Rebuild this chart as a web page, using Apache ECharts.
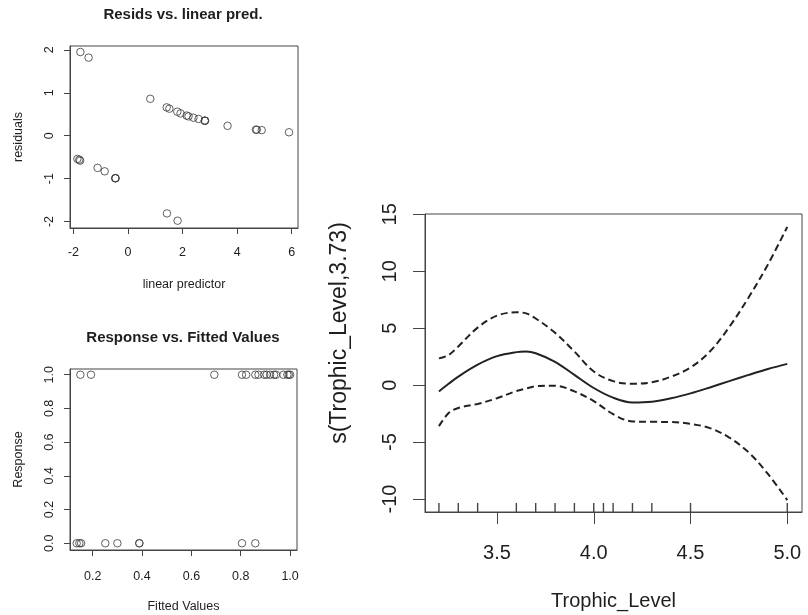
<!DOCTYPE html>
<html>
<head>
<meta charset="utf-8">
<title>GAM diagnostics: Trophic_Level</title>
<script src="https://cdn.jsdelivr.net/npm/echarts@6/dist/echarts.min.js"></script>
<style>
  html, body { margin: 0; padding: 0; background: #ffffff; }
  #chart { width: 808px; height: 615px; }
</style>
</head>
<body>
<div id="chart"></div>
<script>
// Residuals against the linear predictor
const linPred = [-1.74, -1.44, -1.85, -1.78, -1.75, -1.11, -0.85, -0.46, -0.46, -0.45,
  0.82, 1.42, 1.52, 1.81, 1.93, 2.15, 2.22, 2.40, 2.59, 2.82, 2.82, 2.82,
  3.65, 4.69, 4.72, 4.90, 5.90, 1.43, 1.82];
const resid = [1.95, 1.82, -0.54, -0.56, -0.58, -0.75, -0.83, -0.99, -0.99, -0.99,
  0.86, 0.66, 0.63, 0.56, 0.52, 0.47, 0.45, 0.42, 0.39, 0.35, 0.35, 0.35,
  0.23, 0.14, 0.14, 0.13, 0.08, -1.81, -1.98];

// Observed response against fitted probability
const fitted = [0.150, 0.193, 0.693, 0.805, 0.822, 0.859, 0.872, 0.895, 0.905, 0.919,
  0.935, 0.943, 0.973, 0.989, 0.995, 1.000,
  0.135, 0.146, 0.153, 0.251, 0.300, 0.389, 0.389, 0.805, 0.859];
const response = [1, 1, 1, 1, 1, 1, 1, 1, 1, 1,
  1, 1, 1, 1, 1, 1,
  0, 0, 0, 0, 0, 0, 0, 0, 0];

// Smooth term s(Trophic_Level) with its +/- 2 SE band
const trophicGrid = [3.2, 3.25, 3.3, 3.4, 3.5, 3.6, 3.65, 3.7, 3.8, 3.9, 4.0,
  4.1, 4.2, 4.3, 4.4, 4.5, 4.6, 4.7, 4.8, 4.9, 5.0];
const smoothFit = [-0.55, 0.12, 0.75, 1.8, 2.55, 2.9, 2.95, 2.8, 2.05, 0.9, -0.25,
  -1.1, -1.52, -1.45, -1.15, -0.72, -0.2, 0.35, 0.9, 1.42, 1.87];
const upperBand = [2.35, 2.65, 3.4, 5.05, 6.1, 6.4, 6.3, 5.85, 4.6, 2.95, 1.2,
  0.35, 0.12, 0.25, 0.75, 1.55, 2.95, 5.1, 7.7, 10.6, 13.9];
const lowerBand = [-3.6, -2.45, -2.0, -1.65, -1.15, -0.52, -0.3, -0.1, -0.05, -0.55, -1.4,
  -2.55, -3.19, -3.22, -3.24, -3.4, -3.77, -4.6, -5.9, -7.8, -10.1];
const rugValues = [3.2, 3.3, 3.4, 3.6, 3.7, 3.8, 3.9, 4.0, 4.05, 4.1, 4.2, 4.3, 4.5, 5.0];

// Tick labels
const residXTicks = [-2, 0, 2, 4, 6];
const residYTicks = [-2, -1, 0, 1, 2];
const respXTicks = [0.2, 0.4, 0.6, 0.8, 1.0];
const respYTicks = [0, 0.2, 0.4, 0.6, 0.8, 1.0];
const smoothXTicks = [3.5, 4.0, 4.5, 5.0];
const smoothYTicks = [-10, -5, 0, 5, 10, 15];

const FONT = "'Liberation Sans', Arial, Helvetica, sans-serif";
const INK = '#1e1e1e';
const FRAME = '#444444';

function zip(a, b) { return a.map((v, i) => [v, b[i]]); }

function valueAxis(o) {
  return {
    type: 'value',
    gridIndex: o.grid,
    min: o.min,
    max: o.max,
    splitLine: { show: false },
    axisLine: { show: true, onZero: false, lineStyle: { color: FRAME, width: 1 } },
    axisTick: { show: true, customValues: o.ticks, length: o.tickLen, lineStyle: { color: FRAME, width: 1 } },
    axisLabel: {
      customValues: o.ticks,
      margin: o.margin,
      rotate: o.rotate || 0,
      fontFamily: FONT,
      fontSize: o.fontSize,
      color: INK,
      formatter: o.fmt || (v => String(v))
    },
    name: o.name || '',
    nameLocation: 'middle',
    nameGap: o.nameGap || 0,
    nameTextStyle: { fontFamily: FONT, fontSize: o.nameSize, color: INK }
  };
}

const chart = echarts.init(document.getElementById('chart'), null, { renderer: 'canvas' });

const fix1 = v => v.toFixed(1);

const option = {
  animation: false,
  backgroundColor: '#ffffff',
  graphic: [
    { type: 'text', x: 183, y: 15, style: { text: 'Resids vs. linear pred.', font: "bold 15px " + FONT, fill: INK, align: 'center', verticalAlign: 'middle' } },
    { type: 'text', x: 183, y: 338, style: { text: 'Response vs. Fitted Values', font: "bold 15px " + FONT, fill: INK, align: 'center', verticalAlign: 'middle' } },
    { type: 'text', x: 340, y: 333, rotation: Math.PI / 2, style: { text: 's(Trophic_Level,3.73)', font: "23px " + FONT, fill: INK, align: 'center', verticalAlign: 'middle' } }
  ],
  grid: [
    { left: 70, top: 46, width: 228, height: 182, show: true, borderColor: FRAME, borderWidth: 1, backgroundColor: 'transparent' },
    { left: 70, top: 369, width: 227, height: 181, show: true, borderColor: FRAME, borderWidth: 1, backgroundColor: 'transparent' },
    { left: 425, top: 214, width: 377, height: 298, show: true, borderColor: FRAME, borderWidth: 1, backgroundColor: 'transparent' }
  ],
  xAxis: [
    valueAxis({ grid: 0, min: -2.12, max: 6.23, ticks: residXTicks, tickLen: 6, margin: 18, fontSize: 12.5, name: 'linear predictor', nameGap: 50, nameSize: 12.5 }),
    valueAxis({ grid: 1, min: 0.108, max: 1.028, ticks: respXTicks, tickLen: 6, margin: 20, fontSize: 12.5, fmt: fix1, name: 'Fitted Values', nameGap: 50, nameSize: 12.5 }),
    valueAxis({ grid: 2, min: 3.128, max: 5.076, ticks: smoothXTicks, tickLen: 12, margin: 31, fontSize: 20, fmt: fix1, name: 'Trophic_Level', nameGap: 79, nameSize: 20 })
  ],
  yAxis: [
    valueAxis({ grid: 0, min: -2.15, max: 2.09, ticks: residYTicks, tickLen: 6, margin: 14, rotate: 90, fontSize: 12.5, name: 'residuals', nameGap: 45, nameSize: 12.5 }),
    valueAxis({ grid: 1, min: -0.04, max: 1.034, ticks: respYTicks, tickLen: 6, margin: 14, rotate: 90, fontSize: 12.5, fmt: fix1, name: 'Response', nameGap: 45, nameSize: 12.5 }),
    valueAxis({ grid: 2, min: -11.14, max: 15.03, ticks: smoothYTicks, tickLen: 12, margin: 25, rotate: 90, fontSize: 20 })
  ],
  series: [
    {
      type: 'scatter', xAxisIndex: 0, yAxisIndex: 0,
      data: zip(linPred, resid),
      symbol: 'circle', symbolSize: 7.5,
      itemStyle: { color: 'rgba(0,0,0,0)', borderColor: '#383838', borderWidth: 1 }
    },
    {
      type: 'scatter', xAxisIndex: 1, yAxisIndex: 1,
      data: zip(fitted, response),
      symbol: 'circle', symbolSize: 7.5,
      itemStyle: { color: 'rgba(0,0,0,0)', borderColor: '#383838', borderWidth: 1 }
    },
    {
      type: 'line', xAxisIndex: 2, yAxisIndex: 2,
      data: zip(trophicGrid, smoothFit),
      smooth: 0.35, showSymbol: false,
      lineStyle: { color: '#222222', width: 2 }
    },
    {
      type: 'line', xAxisIndex: 2, yAxisIndex: 2,
      data: zip(trophicGrid, upperBand),
      smooth: 0.35, showSymbol: false,
      lineStyle: { color: '#222222', width: 2, type: [7, 4] }
    },
    {
      type: 'line', xAxisIndex: 2, yAxisIndex: 2,
      data: zip(trophicGrid, lowerBand),
      smooth: 0.35, showSymbol: false,
      lineStyle: { color: '#222222', width: 2, type: [7, 4] }
    },
    {
      // rug of observed Trophic_Level values along the bottom frame
      type: 'custom', xAxisIndex: 2, yAxisIndex: 2,
      data: rugValues.map(v => [v]),
      encode: { x: 0 },
      clip: false,
      renderItem: function (params, api) {
        const cs = params.coordSys;
        const x = api.coord([api.value(0), 0])[0];
        const bottom = cs.y + cs.height;
        return {
          type: 'line',
          shape: { x1: x, y1: bottom, x2: x, y2: bottom - 9 },
          style: { stroke: FRAME, lineWidth: 1.4 }
        };
      }
    }
  ]
};

chart.setOption(option);
</script>
</body>
</html>
